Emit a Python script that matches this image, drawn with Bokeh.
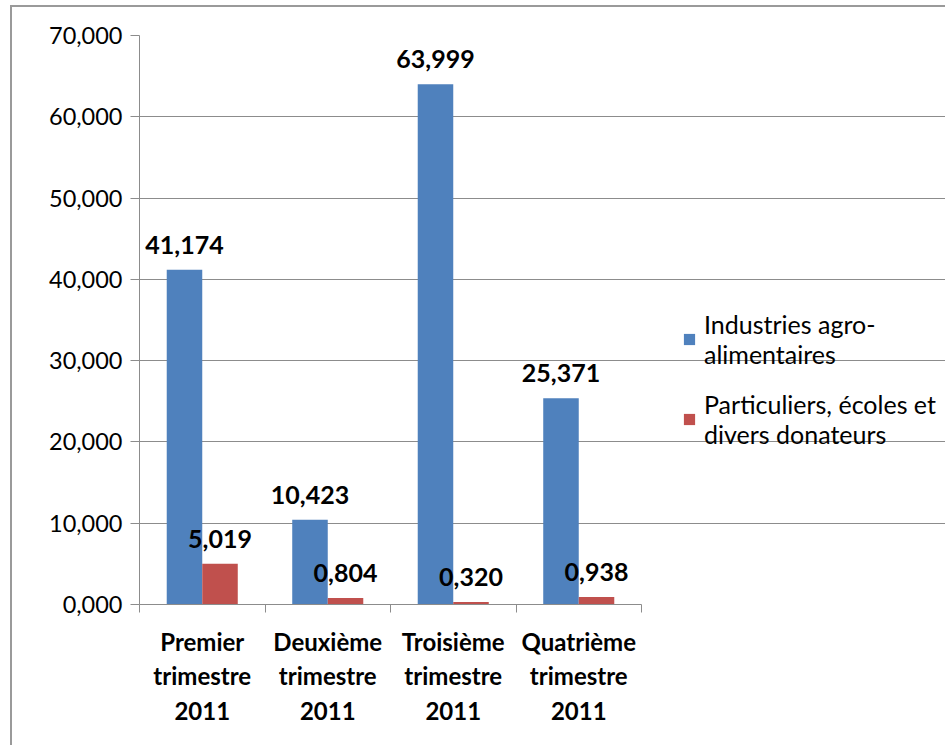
from bokeh.plotting import figure
from bokeh.models import (ColumnDataSource, FixedTicker, CustomJSTickFormatter,
                          Legend, LegendItem, Range1d)
from bokeh.core.properties import value
from bokeh.embed import file_html
from bokeh.resources import INLINE

# ---- data ----
categories = ["Premier\ntrimestre\n2011", "Deuxième\ntrimestre\n2011",
              "Troisième\ntrimestre\n2011", "Quatrième\ntrimestre\n2011"]
series_names = ["Industries agro-\nalimentaires", "Particuliers, écoles et\ndivers donateurs"]
industries = [41.174, 10.423, 63.999, 25.371]
particuliers = [5.019, 0.804, 0.320, 0.938]
y_ticks = [0, 10, 20, 30, 40, 50, 60, 70]

BLUE = "#4F81BD"
RED = "#C0504D"
GRID = "#8C8C8C"
FONT = "Lato"

def fmt(v):
    return f"{v:.3f}".replace(".", ",")

n = len(categories)
centers = [i + 0.5 for i in range(n)]
bw = 0.283
src_a = ColumnDataSource(dict(x=[c - bw / 2 for c in centers], top=industries,
                              lab=[fmt(v) for v in industries]))
src_b = ColumnDataSource(dict(x=[c + bw / 2 for c in centers], top=particuliers,
                              lab=[fmt(v) for v in particuliers]))

# plot area is widened to the right to host the legend; axis/grid are bounded to the data span
W, H = 935, 740
ML, MT, MB = 127, 28, 143
frame_w = W - ML
px_per_cat = 125.5
x_end = frame_w / px_per_cat

p = figure(width=W, height=H, output_backend="svg", toolbar_location=None,
           x_range=Range1d(0, x_end), y_range=Range1d(0, 70),
           min_border_left=ML, min_border_right=0, min_border_top=MT,
           min_border_bottom=MB)
p.styles = {"border-left": "2px solid #9a9a9a", "border-top": "2px solid #9a9a9a",
            "margin-left": "10px", "margin-top": "5px"}
p.outline_line_color = None

ra = p.vbar(x="x", top="top", width=bw, bottom=0, source=src_a, fill_color=BLUE, line_color=None)
rb = p.vbar(x="x", top="top", width=bw, bottom=0, source=src_b, fill_color=RED, line_color=None)

for src in (src_a, src_b):
    p.text(x="x", y="top", text="lab", source=src, text_align="center",
           text_baseline="bottom", y_offset=-16, text_font=value(FONT),
           text_font_style="bold", text_font_size="25px", text_color="black")

# y axis
p.yaxis.ticker = FixedTicker(ticks=y_ticks)
p.yaxis.formatter = CustomJSTickFormatter(code="return tick.toFixed(3).replace('.', ',');")
p.yaxis.major_label_text_font = FONT
p.yaxis.major_label_text_font_size = "23.5px"
p.yaxis.major_label_text_color = "black"
p.yaxis.major_tick_out = 9
p.yaxis.major_tick_in = 0
p.yaxis.minor_tick_line_color = None
p.yaxis.major_label_standoff = 8
p.yaxis.axis_line_color = GRID
p.yaxis.major_tick_line_color = GRID
p.ygrid.ticker = FixedTicker(ticks=y_ticks)
p.ygrid.grid_line_color = GRID
p.ygrid.bounds = (0, n)
p.xgrid.grid_line_color = None

# x axis
p.xaxis.bounds = (0, n)
p.xaxis.ticker = FixedTicker(ticks=centers, minor_ticks=list(range(n + 1)))
p.xaxis.major_label_overrides = {c: lab for c, lab in zip(centers, categories)}
p.xaxis.major_tick_line_color = None
p.xaxis.major_tick_out = 0
p.xaxis.major_tick_in = 0
p.xaxis.minor_tick_out = 8
p.xaxis.minor_tick_in = 0
p.xaxis.minor_tick_line_color = GRID
p.xaxis.axis_line_color = GRID
p.xaxis.major_label_standoff = 14
p.xaxis.major_label_text_font = FONT
p.xaxis.major_label_text_font_style = "bold"
p.xaxis.major_label_text_font_size = "24px"
p.xaxis.major_label_text_color = "black"

legend = Legend(items=[LegendItem(label=series_names[0], renderers=[ra]),
                       LegendItem(label=series_names[1], renderers=[rb])],
                location=(543, 155), border_line_color=None, background_fill_alpha=0,
                label_text_font=FONT, label_text_font_size="25px", label_text_color="black",
                glyph_width=14, glyph_height=14, spacing=20, padding=0, margin=0,
                label_standoff=8)
p.add_layout(legend, "center")

open("out.html", "w").write(file_html(p, INLINE))
